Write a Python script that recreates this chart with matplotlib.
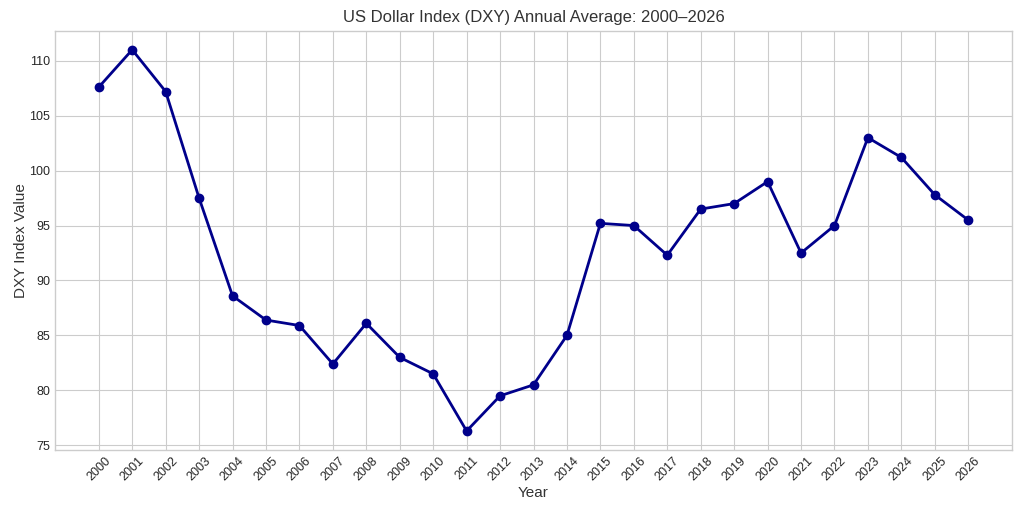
import matplotlib
matplotlib.use("Agg")
import matplotlib.pyplot as plt

years = list(range(2000, 2027))
dxy = [107.6, 111.0, 107.2, 97.5, 88.6, 86.4, 85.9, 82.4, 86.1, 83.0, 81.5, 76.3,
       79.5, 80.5, 85.0, 95.2, 95.0, 92.3, 96.5, 97.0, 99.0, 92.5, 95.0, 103.0,
       101.2, 97.8, 95.5]

plt.style.use("seaborn-v0_8-whitegrid")
plt.rcParams['font.family'] = ['Liberation Sans', 'DejaVu Sans']

fig, ax = plt.subplots(figsize=(10.24, 5.12), dpi=100)
ax.plot(years, dxy, color='darkblue', marker='o', linewidth=2, markersize=6)
ax.set_title("US Dollar Index (DXY) Annual Average: 2000–2026", fontsize=12, color='#333333')
ax.set_xlabel("Year", fontsize=11, color='#333333', labelpad=2)
ax.set_ylabel("DXY Index Value", fontsize=11, color='#333333', labelpad=1)
ax.set_xticks(years)
ax.set_xticklabels([str(y) for y in years], rotation=45)
ax.tick_params(labelsize=9)
for s in ax.spines.values():
    s.set_visible(True)
    s.set_color('#cccccc')
fig.subplots_adjust(left=0.054, right=0.988, top=0.94, bottom=0.121)
fig.savefig("out.png", dpi=100)
